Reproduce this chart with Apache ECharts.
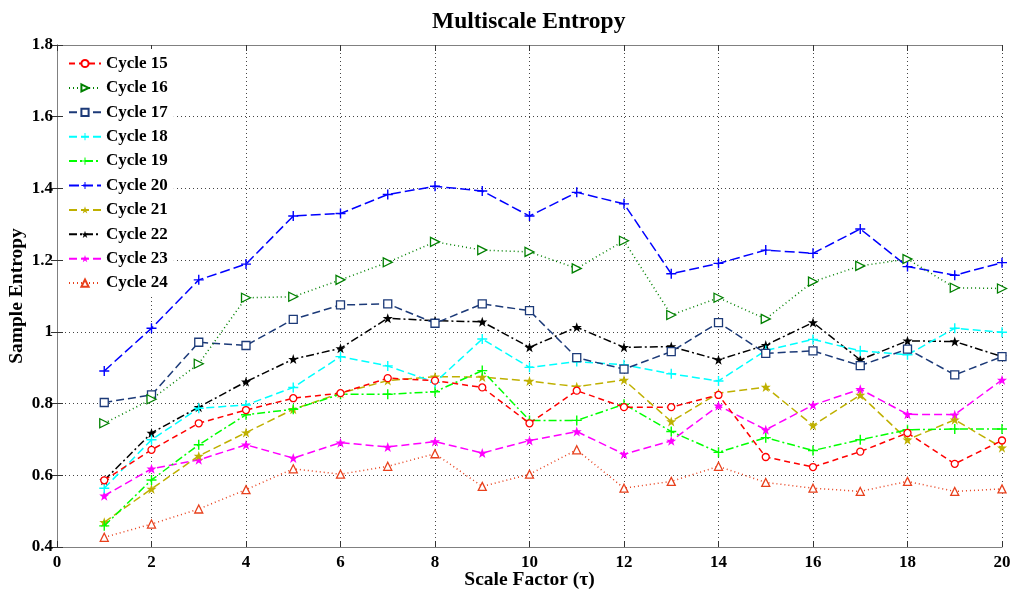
<!DOCTYPE html>
<html>
<head>
<meta charset="utf-8">
<script src="https://cdn.jsdelivr.net/npm/echarts@6/dist/echarts.min.js"></script>
<style>
html, body { margin: 0; padding: 0; background: #fff; }
#chart { width: 1011px; height: 597px; }
</style>
</head>
<body>
<div id="chart"></div>
<script>
const scaleFactor = [1, 2, 3, 4, 5, 6, 7, 8, 9, 10, 11, 12, 13, 14, 15, 16, 17, 18, 19, 20]
const cycleNames = ['Cycle 15', 'Cycle 16', 'Cycle 17', 'Cycle 18', 'Cycle 19', 'Cycle 20', 'Cycle 21', 'Cycle 22', 'Cycle 23', 'Cycle 24']

const cycle15 = [0.586, 0.671, 0.745, 0.782, 0.815, 0.829, 0.871, 0.864, 0.845, 0.745, 0.836, 0.790, 0.790, 0.824, 0.651, 0.623, 0.666, 0.718, 0.632, 0.697]
const cycle16 = [0.745, 0.812, 0.911, 1.095, 1.098, 1.145, 1.194, 1.251, 1.228, 1.223, 1.177, 1.254, 1.047, 1.095, 1.036, 1.140, 1.184, 1.203, 1.123, 1.121]
const cycle17 = [0.803, 0.824, 0.971, 0.962, 1.035, 1.075, 1.078, 1.024, 1.078, 1.059, 0.928, 0.896, 0.945, 1.026, 0.940, 0.947, 0.906, 0.952, 0.880, 0.931]
const cycle18 = [0.564, 0.699, 0.787, 0.796, 0.845, 0.931, 0.905, 0.859, 0.980, 0.901, 0.917, 0.908, 0.883, 0.863, 0.948, 0.979, 0.947, 0.936, 1.010, 0.999]
const cycle19 = [0.459, 0.587, 0.685, 0.769, 0.784, 0.826, 0.826, 0.833, 0.892, 0.753, 0.753, 0.798, 0.722, 0.664, 0.705, 0.669, 0.699, 0.727, 0.729, 0.729]
const cycle20 = [0.891, 1.010, 1.145, 1.189, 1.323, 1.330, 1.383, 1.406, 1.393, 1.323, 1.389, 1.357, 1.162, 1.191, 1.228, 1.219, 1.287, 1.182, 1.158, 1.193]
const cycle21 = [0.469, 0.562, 0.654, 0.719, 0.784, 0.829, 0.864, 0.875, 0.874, 0.863, 0.847, 0.866, 0.750, 0.829, 0.846, 0.739, 0.824, 0.699, 0.755, 0.677]
const cycle22 = [0.586, 0.718, 0.790, 0.861, 0.924, 0.954, 1.038, 1.031, 1.028, 0.957, 1.013, 0.957, 0.959, 0.922, 0.963, 1.026, 0.922, 0.975, 0.973, 0.931]
const cycle23 = [0.543, 0.618, 0.643, 0.685, 0.648, 0.691, 0.679, 0.694, 0.662, 0.697, 0.722, 0.659, 0.696, 0.794, 0.727, 0.796, 0.840, 0.770, 0.769, 0.866]
const cycle24 = [0.427, 0.464, 0.506, 0.560, 0.618, 0.603, 0.625, 0.660, 0.569, 0.603, 0.671, 0.564, 0.583, 0.625, 0.580, 0.564, 0.555, 0.583, 0.555, 0.562]

const xTicks = [0, 2, 4, 6, 8, 10, 12, 14, 16, 18, 20]
const yTicks = [0.4, 0.6, 0.8, 1, 1.2, 1.4, 1.6, 1.8]

const allValues = [cycle15, cycle16, cycle17, cycle18, cycle19, cycle20, cycle21, cycle22, cycle23, cycle24]

// marker shapes
const plusPath = 'path://M-0.7,-5H0.7V-0.7H5V0.7H0.7V5H-0.7V0.7H-5V-0.7H-0.7Z'
const triRightPath = 'path://M0,0L9,5L0,10Z'
const starPath = 'path://M0,-5L1.2,-1.6L4.8,-1.6L1.9,0.6L3,4L0,1.9L-3,4L-1.9,0.6L-4.8,-1.6L-1.2,-1.6Z'

const looks = [
    { color: '#ff0000', dash: [6, 4], symbol: 'circle', open: true, size: 7 },
    { color: '#008000', dash: [1, 3], symbol: triRightPath, open: true, size: 9 },
    { color: '#1c3a78', dash: [8, 4], symbol: 'rect', open: true, size: 8 },
    { color: '#00ffff', dash: [8, 4], symbol: plusPath, open: false, size: 10 },
    { color: '#00ff00', dash: [8, 3, 2, 3], symbol: plusPath, open: false, size: 10 },
    { color: '#0000ff', dash: [10, 4], symbol: plusPath, open: false, size: 10 },
    { color: '#bfb000', dash: [8, 4], symbol: starPath, open: false, size: 10 },
    { color: '#000000', dash: [8, 3, 2, 3], symbol: starPath, open: false, size: 10 },
    { color: '#ff00ff', dash: [8, 4], symbol: starPath, open: false, size: 10 },
    { color: '#e8401c', dash: [1, 3], symbol: 'triangle', open: true, size: 8 }
]

const serif = '"Liberation Serif", "DejaVu Serif", serif'

let mySeries = []
for (let i = 0; i < cycleNames.length; i++) {
    let look = looks[i]
    mySeries.push({
        name: cycleNames[i],
        type: 'line',
        xAxisIndex: 0,
        yAxisIndex: 0,
        data: scaleFactor.map((x, k) => [x, allValues[i][k]]),
        symbol: look.symbol,
        symbolSize: look.size,
        showAllSymbol: true,
        z: 10 - i,
        lineStyle: {
            color: look.color,
            width: 1.5,
            type: look.dash
        },
        itemStyle: {
            color: look.open ? '#fff' : look.color,
            borderColor: look.color,
            borderWidth: look.open ? 1.3 : 0
        },
        emphasis: { disabled: true },
        animation: false
    })
}

const fmt = v => String(+v.toFixed(1))

const chart = echarts.init(document.getElementById('chart'))
chart.setOption({
    backgroundColor: '#fff',
    title: {
        text: 'Multiscale Entropy',
        left: 427,
        top: 5,
        textStyle: { fontFamily: serif, fontWeight: 'bold', fontSize: 23.5, color: '#000' }
    },
    legend: {
        orient: 'vertical',
        left: 64,
        top: 49,
        padding: [6, 6, 4, 4],
        backgroundColor: '#fff',
        itemWidth: 32,
        itemHeight: 9,
        itemGap: 7.4,
        data: cycleNames,
        textStyle: { fontFamily: serif, fontWeight: 'bold', fontSize: 17, lineHeight: 17, color: '#000' }
    },
    grid: {
        left: 57,
        right: 9,
        top: 45,
        bottom: 50,
        outerBoundsMode: 'none'
    },
    xAxis: [{
        type: 'value',
        min: 0,
        max: 20,
        interval: 2,
        name: 'Scale Factor (\u03c4)',
        nameLocation: 'middle',
        nameGap: 23,
        nameMoveOverlap: false,
        nameTextStyle: { fontFamily: serif, fontWeight: 'bold', fontSize: 19.5, color: '#000' },
        axisLine: { lineStyle: { color: '#808080', width: 1 } },
        axisTick: { inside: true, length: 6, lineStyle: { color: '#333' } },
        axisLabel: { fontFamily: serif, fontWeight: 'bold', fontSize: 17, color: '#000', margin: 7, formatter: fmt },
        splitLine: { show: true, lineStyle: { color: '#444', type: [1, 3], width: 1 } }
    }, {
        type: 'value',
        position: 'top',
        min: 0,
        max: 20,
        interval: 2,
        axisLine: { lineStyle: { color: '#808080', width: 1 } },
        axisTick: { inside: true, length: 6, lineStyle: { color: '#333' } },
        axisLabel: { show: false },
        splitLine: { show: false }
    }],
    yAxis: [{
        type: 'value',
        min: 0.4,
        max: 1.8,
        interval: 0.2,
        name: 'Sample Entropy',
        nameLocation: 'middle',
        nameGap: 30,
        nameMoveOverlap: false,
        nameTextStyle: { fontFamily: serif, fontWeight: 'bold', fontSize: 19.5, color: '#000' },
        axisLine: { lineStyle: { color: '#808080', width: 1 } },
        axisTick: { inside: true, length: 6, lineStyle: { color: '#333' } },
        axisLabel: { fontFamily: serif, fontWeight: 'bold', fontSize: 17, color: '#000', margin: 4, formatter: fmt },
        splitLine: { show: true, lineStyle: { color: '#444', type: [1, 3], width: 1 } }
    }, {
        type: 'value',
        position: 'right',
        min: 0.4,
        max: 1.8,
        interval: 0.2,
        axisLine: { show: true, lineStyle: { color: '#808080', width: 1 } },
        axisTick: { show: true, inside: true, length: 6, lineStyle: { color: '#333' } },
        axisLabel: { show: false },
        splitLine: { show: false }
    }],
    series: mySeries
})
</script>
</body>
</html>
